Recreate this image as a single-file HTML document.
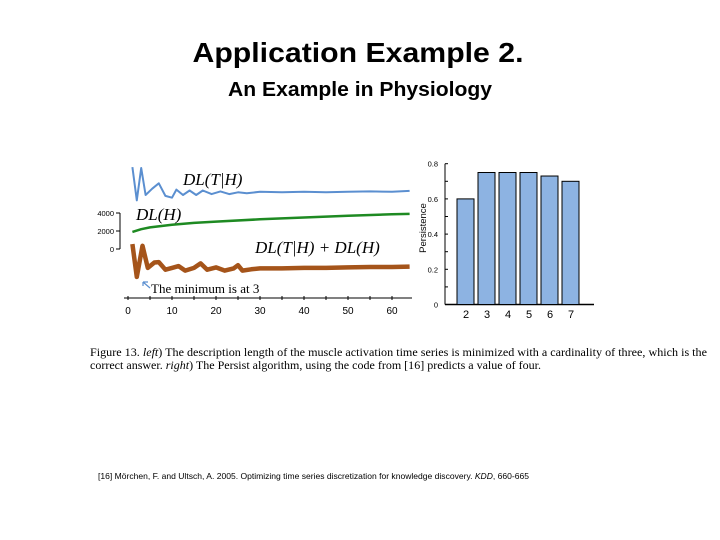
<!DOCTYPE html>
<html><head><meta charset="utf-8"><style>
body{margin:0;background:#fff}
svg{display:block}
</style></head><body>
<svg width="720" height="540" viewBox="0 0 720 540" xmlns="http://www.w3.org/2000/svg" font-family="Liberation Sans, sans-serif">
<text x="358" y="62" text-anchor="middle" font-size="28" font-weight="bold" textLength="331" lengthAdjust="spacingAndGlyphs" fill="#000">Application Example 2.</text>
<text x="360" y="96" text-anchor="middle" font-size="20" font-weight="bold" textLength="264" lengthAdjust="spacingAndGlyphs" fill="#000">An Example in Physiology</text>
<g id="left"></g>
<g id="right"></g>
<g font-family="Liberation Serif, serif" font-size="12" fill="#000">
<text x="90" y="356" textLength="617" lengthAdjust="spacingAndGlyphs">Figure 13. <tspan font-style="italic">left</tspan>) The description length of the muscle activation time series is minimized with a cardinality of three, which is the</text>
<text x="90" y="369" textLength="451" lengthAdjust="spacingAndGlyphs">correct answer. <tspan font-style="italic">right</tspan>) The Persist algorithm, using the code from [16] predicts a value of four.</text>
</g>
<text x="98" y="479" font-size="8.5" textLength="431" lengthAdjust="spacingAndGlyphs">[16] Mörchen, F. and Ultsch, A. 2005. Optimizing time series discretization for knowledge discovery. <tspan font-style="italic">KDD</tspan>, 660-665</text>
</svg>
<script>
const NS='http://www.w3.org/2000/svg';
// Left chart data
const xTicks=[0,10,20,30,40,50,60];
const yTicks=[0,2000,4000];
const blueX=[1,2,3,4,5.5,7,8.5,10,11,12.5,14,15.5,17,19,21,23,25,27,30,35,40,45,50,55,60,64];
const blueV=[9100,5400,9000,6000,6700,7300,5900,5700,6600,6000,6500,6000,6500,6100,6400,6100,6300,6200,6350,6300,6350,6300,6350,6400,6350,6450];
const greenX=[1,3,5,10,15,20,30,40,50,60,64];
const greenV=[1900,2200,2400,2700,2900,3050,3300,3500,3700,3850,3900];
const brownX=[1,2,3.3,4.5,6,7,8.5,10,11.5,13,15,16.5,18,20,22,24,25,26,28,30,35,40,45,50,55,60,64];
const brownV=[550,-3100,350,-2100,-1500,-1450,-2300,-2100,-1900,-2400,-2100,-1600,-2300,-2050,-2400,-2150,-1800,-2400,-2250,-2150,-2150,-2100,-2100,-2050,-2000,-2000,-1950];
// Right chart data
const cats=['2','3','4','5','6','7'];
const persist=[0.6,0.75,0.75,0.75,0.73,0.70];
const pTicks=[0,0.2,0.4,0.6,0.8];

function mk(tag,attrs,parent,txt){const e=document.createElementNS(NS,tag);for(const k in attrs)e.setAttribute(k,attrs[k]);if(txt!==undefined)e.textContent=txt;parent.appendChild(e);return e;}
const L=document.getElementById('left');
const xs=v=>128+v*(392-128)/60;
const ys=v=>249-v*0.009;
let ax=mk('line',{x1:124,y1:298,x2:412,y2:298,stroke:'#000','stroke-width':1},L);


for(let v=0;v<=64;v+=5){mk('line',{x1:xs(v),y1:296,x2:xs(v),y2:300,stroke:'#000'},L);}
xTicks.forEach(t=>{const e=mk('text',{x:xs(t),y:314,'text-anchor':'middle','font-size':10},L,t);

});
mk('line',{x1:120,y1:ys(4000),x2:120,y2:ys(0),stroke:'#000'},L);
yTicks.forEach(t=>{mk('line',{x1:116,y1:ys(t),x2:120,y2:ys(t),stroke:'#000'},L);
const e=mk('text',{x:114,y:ys(t)+3,'text-anchor':'end','font-size':7.5},L,t);

});
function line(X,V,color,w,name){const d=X.map((x,i)=>(i?'L':'M')+xs(x).toFixed(1)+','+ys(V[i]).toFixed(1)).join(' ');
const p=mk('path',{d:d,fill:'none',stroke:color,'stroke-width':w,'stroke-linejoin':'round'},L);

}
line(blueX,blueV,'#5b8fd0',2,'dl-t-given-h-line');
line(greenX,greenV,'#1e8a22',2.5,'dl-h-line');
line(brownX,brownV,'#a5541a',4.5,'dl-total-line');
const sf='Liberation Serif, serif';
function lab(x,y,s,t,name){const e=mk('text',{x:x,y:y,'font-size':s,'font-style':'italic','font-family':sf},L,t);

}
lab(183,185,17,'DL(T|H)','label-dl-t-given-h');
lab(136,220,17,'DL(H)','label-dl-h');
lab(255,253,17,'DL(T|H) +  DL(H)','label-dl-total');
const m=mk('text',{x:151,y:293,'font-size':13,'font-family':sf},L,'The minimum is at 3');


mk('path',{d:'M150,288 L143,282 M143,282 l5,0 M143,282 l0,4',stroke:'#5b8fd0','stroke-width':1.2,fill:'none'},L);
// Right chart
const R=document.getElementById('right');
const bx=i=>457+i*21;
const by=v=>304.5-v*176;
mk('line',{x1:445,y1:by(0.8),x2:445,y2:by(0),stroke:'#000'},R);
let xa=mk('line',{x1:445,y1:304.5,x2:594,y2:304.5,stroke:'#000','stroke-width':1.5},R);


for(let v=0;v<=0.8001;v+=0.1){mk('line',{x1:445,y1:by(v),x2:448,y2:by(v),stroke:'#000'},R);}
pTicks.forEach(t=>{const e=mk('text',{x:438,y:by(t)+3,'text-anchor':'end','font-size':7.5},R,t);

});
cats.forEach((c,i)=>{const b=mk('rect',{x:bx(i),y:by(persist[i]),width:17,height:by(0)-by(persist[i]),fill:'#8db3e2',stroke:'#000','stroke-width':1},R);


const t=mk('text',{x:bx(i)+9,y:318,'text-anchor':'middle','font-size':11},R,c);

});
const yt=mk('text',{x:0,y:0,'font-size':9.5,transform:'translate(426,228) rotate(-90)','text-anchor':'middle'},R,'Persistence');


</script>
</body></html>
